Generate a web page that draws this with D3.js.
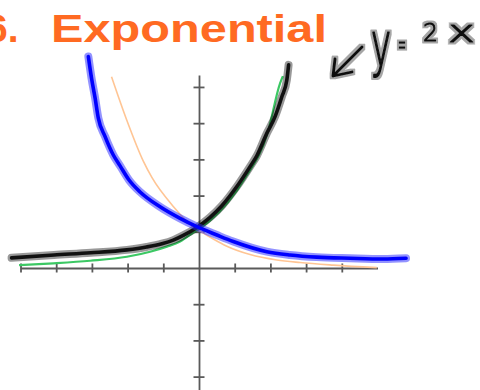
<!DOCTYPE html>
<html>
<head>
<meta charset="utf-8">
<script src="https://cdn.jsdelivr.net/npm/d3@7"></script>
<style>
  html, body { margin: 0; padding: 0; background: #fff; }
  svg { display: block; }
</style>
</head>
<body>
<svg id="chart" width="480" height="390"></svg>
<script>
// Axis ticks (units)
const xTicks = [-5, -4, -3, -2, -1, 1, 2, 3, 4];
const yTicks = [-3, -2, -1, 1, 2, 3, 4, 5];

// y = 2^x (thin green)
const growthX = [-5.04, -4.08, -3.05, -2.02, -1.37, -0.9, -0.53, -0.16, 0.3, 0.8, 1.3, 1.93, 2.27, 2.35];
const growthY = [0.08, 0.13, 0.2, 0.31, 0.45, 0.59, 0.73, 0.98, 1.3, 1.8, 2.5, 3.76, 5.1, 5.3];

// y = (1/2)^x (thin orange)
const decayX = [-2.45, -2.03, -1.56, -1.32, -0.72, -0.2, 0.03, 0.4, 0.78, 1.43, 2.18, 2.83, 3.76, 4.98];
const decayY = [5.28, 4.1, 2.95, 2.5, 1.7, 1.17, 1.02, 0.8, 0.6, 0.37, 0.22, 0.15, 0.08, 0.01];

// marker sketch over the growth curve (black)
const sketchUpX = [-5.25, -4.06, -3.03, -2.02, -1.47, -1.04, -0.72, -0.44, -0.06, 0.31, 0.64, 1.06, 1.43, 1.62, 1.9, 2.13, 2.32, 2.46, 2.51];
const sketchUpY = [0.28, 0.36, 0.42, 0.5, 0.58, 0.67, 0.77, 0.9, 1.12, 1.4, 1.72, 2.25, 2.8, 3.1, 3.72, 4.18, 4.73, 5.19, 5.61];

// marker sketch over the decay curve (blue)
const sketchDownX = [-3.1, -3.01, -2.91, -2.82, -2.63, -2.4, -2.21, -1.96, -1.65, -1.09, -0.53, -0.06, 0.5, 0.96, 1.9, 2.55, 3.3, 4.23, 5.16, 5.8];
const sketchDownY = [5.84, 5.24, 4.69, 4.14, 3.63, 3.12, 2.82, 2.43, 2.1, 1.69, 1.37, 1.14, 0.91, 0.73, 0.45, 0.36, 0.3, 0.27, 0.25, 0.27];

const svg = d3.select("#chart");

// soft grey halo around the handwritten note
const halo = svg.append("defs").append("filter").attr("id", "halo")
  .attr("x", "-30%").attr("y", "-30%").attr("width", "160%").attr("height", "160%");
halo.append("feMorphology").attr("in", "SourceAlpha").attr("operator", "dilate").attr("radius", 1.8).attr("result", "wide");
halo.append("feGaussianBlur").attr("in", "wide").attr("stdDeviation", 0.6).attr("result", "soft");
halo.append("feFlood").attr("flood-color", "#000").attr("flood-opacity", 0.35);
halo.append("feComposite").attr("in2", "soft").attr("operator", "in").attr("result", "shadow");
const merge = halo.append("feMerge");
merge.append("feMergeNode").attr("in", "shadow");
merge.append("feMergeNode").attr("in", "SourceGraphic");

const x = d3.scaleLinear().domain([-5, 5]).range([20.5, 377.5]);
const y = d3.scaleLinear().domain([-3.4, 5.33]).range([391.1, 75]);

// title
const title = svg.append("text")
  .attr("y", 42)
  .style("font-family", "'Liberation Sans', Arial, sans-serif")
  .style("font-weight", "bold")
  .style("font-size", "39px")
  .style("fill", "#ff6a22");
title.append("tspan").attr("x", -14).text("6.");
title.append("tspan").attr("x", 51)
  .attr("textLength", 276)
  .attr("lengthAdjust", "spacingAndGlyphs")
  .text("Exponential");

// axes
const axisColor = "#5a5a5a";
const gx = svg.append("g")
  .attr("transform", `translate(0,${y(0)})`)
  .call(d3.axisBottom(x).tickValues(xTicks).tickSizeOuter(0).tickSizeInner(0).tickFormat(""));
gx.selectAll(".tick line").attr("y1", -4.5).attr("y2", 4.5);

const gy = svg.append("g")
  .attr("transform", `translate(${x(0)},0)`)
  .call(d3.axisLeft(y).tickValues(yTicks).tickSizeOuter(0).tickSizeInner(0).tickFormat(""));
gy.selectAll(".tick line").attr("x1", -5.5).attr("x2", 5.5);

svg.selectAll(".domain, .tick line")
  .attr("stroke", axisColor)
  .attr("stroke-width", 1.8);

const line = d3.line()
  .x(d => x(d[0]))
  .y(d => y(d[1]))
  .curve(d3.curveMonotoneX);

const zip = (a, b) => a.map((v, i) => [v, b[i]]);

// thin reference curves
svg.append("path")
  .datum(zip(decayX, decayY))
  .attr("d", line)
  .attr("fill", "none")
  .attr("stroke", "#ffc594")
  .attr("stroke-width", 1.6);

svg.append("path")
  .datum(zip(growthX, growthY))
  .attr("d", line)
  .attr("fill", "none")
  .attr("stroke", "#3cc864")
  .attr("stroke-width", 2.2);

// marker strokes with soft halo
function marker(data, haloColor, core) {
  const g = svg.append("g");
  g.append("path").datum(data).attr("d", line)
    .attr("fill", "none").attr("stroke", haloColor)
    .attr("stroke-width", 8).attr("stroke-linecap", "round").attr("stroke-linejoin", "round");
  g.append("path").datum(data).attr("d", line)
    .attr("fill", "none").attr("stroke", core)
    .attr("stroke-width", 3.6).attr("stroke-linecap", "round").attr("stroke-linejoin", "round");
}
marker(zip(sketchUpX, sketchUpY), "rgba(0,0,0,0.4)", "#111");
marker(zip(sketchDownX, sketchDownY), "rgba(40,40,255,0.5)", "#0000ff");

// handwritten note with arrow
const note = svg.append("g").attr("filter", "url(#halo)");
note.append("path").attr("d", "M362,47 L333,76 M335,59 L333,76 L352,72")
  .attr("fill", "none").attr("stroke", "#111")
  .attr("stroke-width", 2.8).attr("stroke-linecap", "round").attr("stroke-linejoin", "round");

const glyphs = [
  { t: "y", x: 371, y: 66, size: 60, len: 20, w: 1.8 },
  { t: "=", x: 398, y: 55, size: 30, len: 8, w: 0.8 },
  { t: "2", x: 423, y: 41, size: 24, len: 15, w: 0.9 },
  { t: "x", x: 448, y: 42, size: 30, len: 27, w: 1.1 }
];
const noteText = note.append("text")
  .style("font-family", "'DejaVu Sans', sans-serif")
  .style("font-weight", 200)
  .style("fill", "#111")
  .attr("stroke", "#111")
  .attr("stroke-linejoin", "round");
noteText.selectAll("tspan").data(glyphs).enter().append("tspan")
  .attr("x", d => d.x).attr("y", d => d.y)
  .attr("textLength", d => d.len)
  .attr("lengthAdjust", "spacingAndGlyphs")
  .style("font-size", d => d.size + "px")
  .attr("stroke-width", d => d.w)
  .text(d => d.t);
</script>
</body>
</html>
